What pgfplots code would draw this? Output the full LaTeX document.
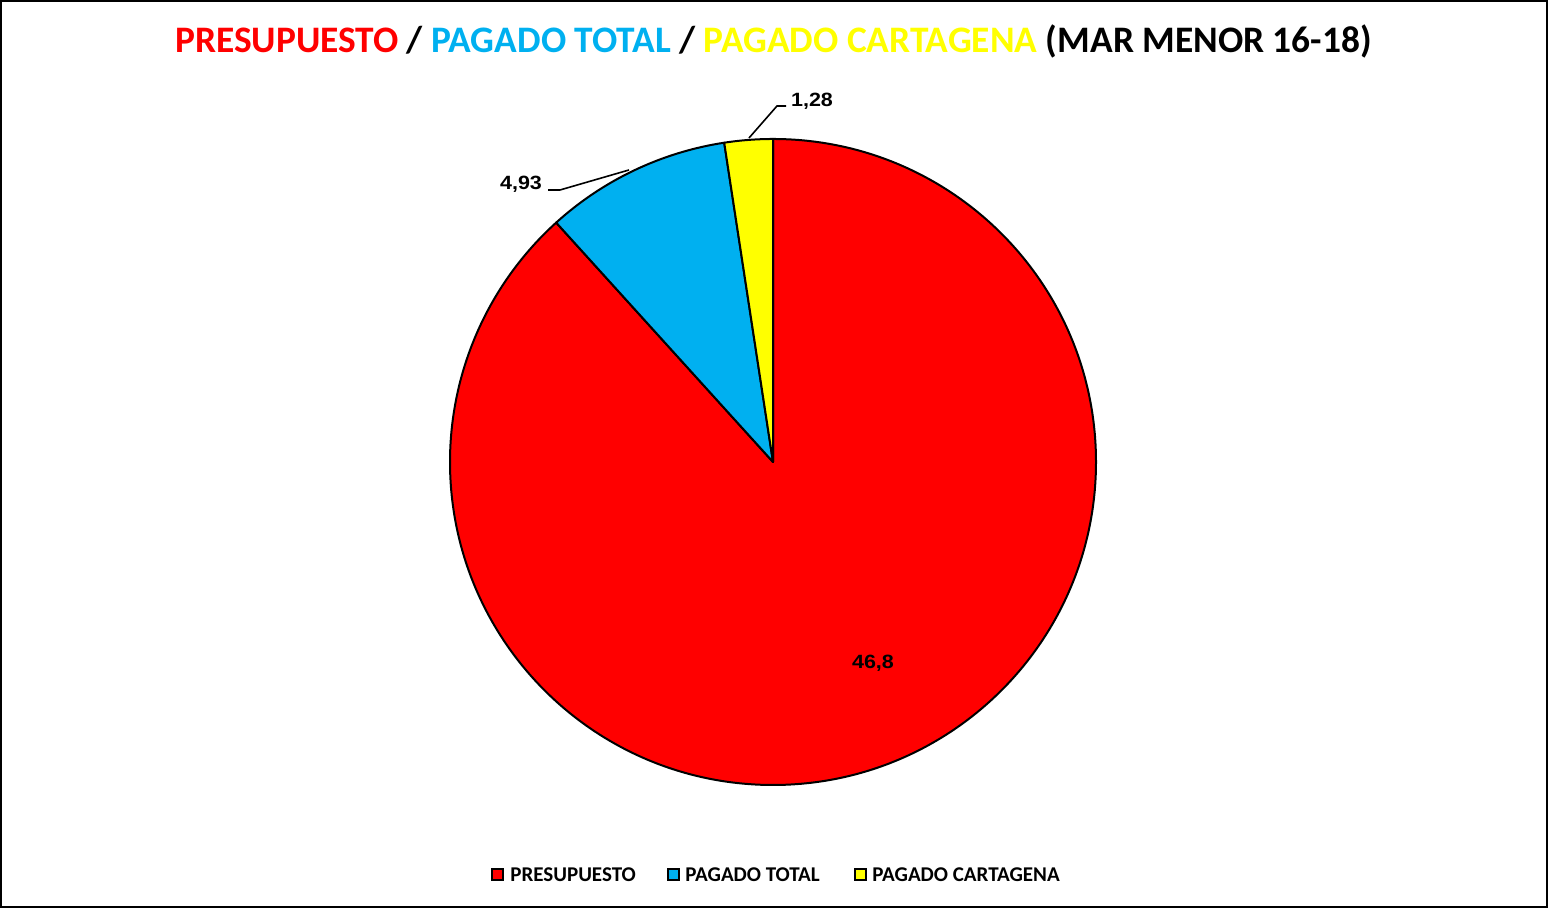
\documentclass[border=0pt]{standalone}
\usepackage{pgfplots}
\pgfplotsset{compat=1.18}
\usepackage{pgfplotstable}
\usepackage{graphicx}
\usepackage{fontspec}
\setmainfont{Carlito}
\newfontfamily\arialfont{Liberation Sans}

\definecolor{cPres}{HTML}{FF0000}
\definecolor{cTotal}{HTML}{00B0F0}
\definecolor{cCart}{HTML}{FFFF00}

% values in millions (Mar Menor 2016-18)
\pgfplotstableread{
label value
PRESUPUESTO 46.8
PAGADO_TOTAL 4.93
PAGADO_CARTAGENA 1.28
}\piedata

\newcommand{\lbl}[1]{\scalebox{1.12}[1]{\arialfont\bfseries\fontsize{9.6}{10}\selectfont #1}}

\begin{document}
\begin{tikzpicture}
\pgfplotstablegetelem{0}{value}\of\piedata \let\va\pgfplotsretval
\pgfplotstablegetelem{1}{value}\of\piedata \let\vb\pgfplotsretval
\pgfplotstablegetelem{2}{value}\of\piedata \let\vc\pgfplotsretval
\pgfmathsetmacro{\tot}{\va+\vb+\vc}
\pgfmathsetmacro{\aA}{90-360*(\va/\tot)}
\pgfmathsetmacro{\aB}{\aA-360*(\vb/\tot)}
\def\R{161.5pt}
\begin{axis}[
    width=774pt, height=454pt, scale only axis,
    xmin=0, xmax=1548, ymin=0, ymax=908,
    hide axis, clip=false,
]
% outer frame
\draw[line width=1pt] (axis cs:1,1) rectangle (axis cs:1547,907);

% title
\node[font=\bfseries\fontsize{18.7}{20}\selectfont, anchor=center] at (axis cs:773.5,867)
  {\textcolor{cPres}{PRESUPUESTO} / \textcolor{cTotal}{PAGADO TOTAL} / \textcolor{cCart}{PAGADO CARTAGENA} (MAR MENOR 16-18)};

% pie wedges, clockwise from 12 o'clock
\coordinate (c) at (axis cs:773,446);
\filldraw[fill=cPres, draw=black, line width=1pt, line join=round]
  (c) -- ++(90:\R) arc[start angle=90, end angle=\aA, radius=\R] -- cycle;
\filldraw[fill=cTotal, draw=black, line width=1pt, line join=round]
  (c) -- ++(\aA:\R) arc[start angle=\aA, end angle=\aB, radius=\R] -- cycle;
\filldraw[fill=cCart, draw=black, line width=1pt, line join=round]
  (c) -- ++(\aB:\R) arc[start angle=\aB, end angle=-270, radius=\R] -- cycle;

% data labels
\node at (axis cs:873,245) {\lbl{46,8}};
\node[anchor=east] at (axis cs:549,724) {\lbl{4,93}};
\node[anchor=west] at (axis cs:784,807) {\lbl{1,28}};
\draw[line width=0.8pt] (axis cs:548,718) -- (axis cs:560,718) -- (axis cs:629,738);
\draw[line width=0.8pt] (axis cs:786,802) -- (axis cs:777,802) -- (axis cs:749,770);

% legend
\filldraw[fill=cPres, draw=black, line width=1pt] (axis cs:492,28) rectangle (axis cs:503,39);
\node[font=\bfseries\fontsize{10.5}{11}\selectfont, anchor=west, inner sep=0pt] at (axis cs:510,33) {PRESUPUESTO};
\filldraw[fill=cTotal, draw=black, line width=1pt] (axis cs:668,28) rectangle (axis cs:679,39);
\node[font=\bfseries\fontsize{10.5}{11}\selectfont, anchor=west, inner sep=0pt] at (axis cs:685,33) {PAGADO TOTAL};
\filldraw[fill=cCart, draw=black, line width=1pt] (axis cs:855,28) rectangle (axis cs:866,39);
\node[font=\bfseries\fontsize{10.5}{11}\selectfont, anchor=west, inner sep=0pt] at (axis cs:872,33) {PAGADO CARTAGENA};
\end{axis}
\end{tikzpicture}
\end{document}
